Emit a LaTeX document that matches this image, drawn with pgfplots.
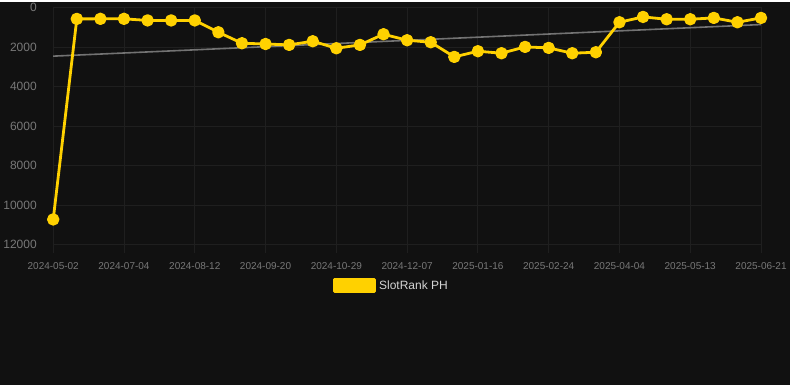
\documentclass[border=0pt]{standalone}
\usepackage{pgfplots}
\pgfplotsset{compat=1.18}
\usepackage{fontspec}
\setmainfont{Liberation Sans}
\definecolor{bg}{RGB}{17,17,17}
\definecolor{gridc}{RGB}{31,31,31}
\definecolor{tickc}{RGB}{120,120,120}
\definecolor{gold}{RGB}{255,209,0}
\definecolor{trend}{RGB}{115,115,115}
\definecolor{legtext}{RGB}{212,212,212}
\begin{document}
\begin{tikzpicture}[x=1pt,y=1pt]
\fill[bg] (0,0) rectangle (790,384);
\begin{axis}[
  at={(53pt,141pt)}, anchor=south west,
  scale only axis, width=708pt, height=237pt,
  xmin=0, xmax=30, ymin=0, ymax=12000,
  y dir=reverse,
  clip=false,
  axis line style={draw=gridc},
  xtick={0,3,...,30},
  xticklabels={2024-05-02,2024-07-04,2024-08-12,2024-09-20,2024-10-29,2024-12-07,2025-01-16,2025-02-24,2025-04-04,2025-05-13,2025-06-21},
  ytick={0,2000,...,12000},
  scaled y ticks=false,
  /pgf/number format/assume math mode=true,
  yticklabel={\pgfmathprintnumber[fixed,1000 sep={}]{\tick}},
  xticklabel style={font=\fontsize{10}{12}\selectfont, text=tickc, yshift=-6pt},
  yticklabel style={font=\fontsize{12}{14}\selectfont, text=tickc, xshift=-5pt},
  grid=major,
  major grid style={draw=gridc, line width=0.8pt},
  major tick length=8pt,
  xtick style={draw=gridc, line width=0.8pt},
  ytick style={draw=none},
  tick align=outside,
  xtick pos=bottom,
  ytick pos=left,
  legend style={at={(0.3955,-0.173)}, anchor=west, draw=none, fill=none, inner sep=0pt,
     font=\fontsize{12}{14}\selectfont, text=legtext, legend cell align=left},
]
\addplot[trend, line width=1.6pt, forget plot] coordinates {(0,2460) (30,860)};
\addplot[gold, line width=2.8pt, line join=round,
  mark=*, mark size=4.8pt, mark options={solid, fill=gold, draw=none},
  legend image code/.code={\fill[gold] (0pt,-6pt) rectangle (40pt,6pt); \path (41pt,0pt);}]
coordinates {
(0,10730) (1,573) (2,570) (3,570) (4,650) (5,650) (6,650) (7,1250) (8,1806) (9,1845)
(10,1890) (11,1705) (12,2060) (13,1890) (14,1350) (15,1654) (16,1755) (17,2498) (18,2210) (19,2312)
(20,1991) (21,2042) (22,2312) (23,2261) (24,743) (25,473) (26,591) (27,591) (28,523) (29,743) (30,523)
};
\addlegendentry{SlotRank PH}
\end{axis}
\end{tikzpicture}
\end{document}
